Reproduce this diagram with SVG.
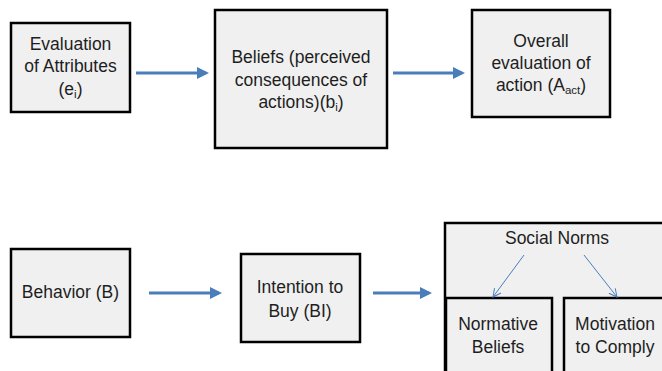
<svg xmlns="http://www.w3.org/2000/svg" width="662" height="371" viewBox="0 0 662 371">
<defs>
<marker id="ah" markerWidth="4" markerHeight="4" refX="3" refY="2" orient="auto" markerUnits="strokeWidth">
<path d="M0,0 L4,2 L0,4 Z" fill="#4a7ebb"/>
</marker>
<marker id="ahs" markerWidth="10" markerHeight="10" refX="9" refY="5" orient="auto" markerUnits="userSpaceOnUse">
<path d="M1,1 L9,5 L1,9" fill="none" stroke="#4a7ebb" stroke-width="1"/>
</marker>
<style>
.box{fill:#f0f0f0;stroke:#000;stroke-width:2.5}
text{font-family:"Liberation Sans",Arial,sans-serif;font-size:17.5px;fill:#1e1e1e;text-anchor:middle}
.sub{font-size:11.5px}
.c{stroke:#4a7ebb;stroke-width:3;fill:none}
.t{stroke:#4a7ebb;stroke-width:1;fill:none}
</style>
</defs>
<g id="n1">
<rect class="box" x="11" y="23" width="119" height="89"/>
<text x="70.5" y="50">Evaluation</text>
<text x="70.5" y="72">of Attributes</text>
<text x="70.5" y="95">(e<tspan class="sub" dy="3">i</tspan><tspan dy="-3">)</tspan></text>
</g>
<g id="n2">
<rect class="box" x="215" y="10" width="172" height="138"/>
<text x="301" y="63">Beliefs (perceived</text>
<text x="301" y="86">consequences of</text>
<text x="301" y="108">actions)(b<tspan class="sub" dy="3">i</tspan><tspan dy="-3">)</tspan></text>
</g>
<g id="n3">
<rect class="box" x="472" y="10" width="138" height="107"/>
<text x="541" y="47">Overall</text>
<text x="541" y="69">evaluation of</text>
<text x="541" y="91">action (A<tspan class="sub" dy="3">act</tspan><tspan dy="-3">)</tspan></text>
</g>
<g id="n4">
<rect class="box" x="11" y="249" width="119" height="88"/>
<text x="70.5" y="298">Behavior (B)</text>
</g>
<g id="n5">
<rect class="box" x="241" y="254" width="119" height="88"/>
<text x="300" y="293">Intention to</text>
<text x="300" y="317">Buy (BI)</text>
</g>
<g id="n6">
<rect class="box" x="445" y="223" width="230" height="160"/>
<text x="557" y="244">Social Norms</text>
</g>
<g id="n7">
<rect class="box" x="446" y="298" width="106" height="80"/>
<text x="498" y="330">Normative</text>
<text x="498" y="353">Beliefs</text>
</g>
<g id="n8">
<rect class="box" x="564" y="298" width="106" height="80"/>
<text x="615" y="330">Motivation</text>
<text x="615" y="353">to Comply</text>
</g>
<g id="connectors">
<line class="c" x1="136" y1="73" x2="206" y2="73" marker-end="url(#ah)"/>
<line class="c" x1="393" y1="73" x2="462" y2="73" marker-end="url(#ah)"/>
<line class="c" x1="149" y1="293" x2="219" y2="293" marker-end="url(#ah)"/>
<line class="c" x1="373" y1="293" x2="429" y2="293" marker-end="url(#ah)"/>
<line class="t" x1="524" y1="255" x2="493" y2="297" marker-end="url(#ahs)"/>
<line class="t" x1="584" y1="255" x2="617" y2="297" marker-end="url(#ahs)"/>
</g>
</svg>
